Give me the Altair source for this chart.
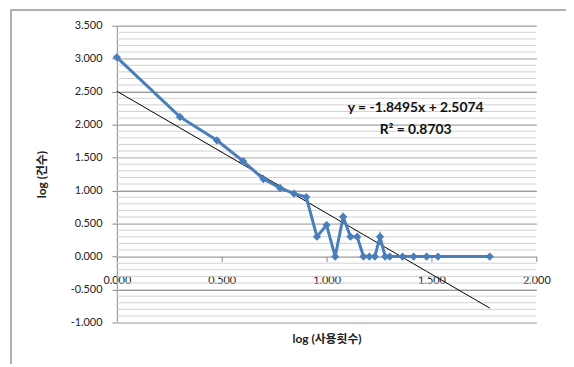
import altair as alt
import pandas as pd

# log(사용횟수) and log(건수)
x_vals = [0.000, 0.301, 0.477, 0.602, 0.699, 0.778, 0.845, 0.903, 0.954, 1.000,
          1.041, 1.079, 1.114, 1.146, 1.176, 1.204, 1.230, 1.255, 1.279, 1.301,
          1.362, 1.415, 1.477, 1.531, 1.778]
y_vals = [3.021, 2.117, 1.763, 1.447, 1.176, 1.041, 0.954, 0.903, 0.301, 0.477,
          0.000, 0.602, 0.301, 0.301, 0.000, 0.000, 0.000, 0.301, 0.000, 0.000,
          0.000, 0.000, 0.000, 0.000, 0.000]

slope = -1.8495
intercept = 2.5074
eq_lines = ["y = -1.8495x + 2.5074", "R² = 0.8703"]

major_ticks_y = [-1.0, -0.5, 0.0, 0.5, 1.0, 1.5, 2.0, 2.5, 3.0, 3.5]
minor_ticks_y = [round(-1.0 + 0.1 * i, 1) for i in range(46)]
major_ticks_x = [0.0, 0.5, 1.0, 1.5, 2.0]

df = pd.DataFrame({"x": x_vals, "y": y_vals})
minor_df = pd.DataFrame({"y": minor_ticks_y})

FONT = "Lato, 'Noto Sans CJK KR', sans-serif"
MINUS_FIX = "replace(datum.label, '\u2212', '-')"

xscale = alt.Scale(domain=[0, 2], nice=False, zero=False)
yscale = alt.Scale(domain=[-1, 3.5], nice=False, zero=False)

minor = alt.Chart(minor_df).mark_rule(color="#d0d0d0", strokeWidth=1).encode(
    y=alt.Y("y:Q", scale=yscale, axis=None)
)

base = alt.Chart(df)

axes_layer = base.mark_point(opacity=0).encode(
    x=alt.X("x:Q", scale=xscale,
            axis=alt.Axis(orient="bottom", values=major_ticks_x, format=".3f",
                          title="log (사용횟수)", labelFlush=False,
                          grid=False, offset=-66.7, domainColor="#888888",
                          tickColor="#888888", tickSize=5, labelPadding=13,
                          labelOverlap=False,
                          labelFontSize=11, labelColor="#222222", labelFont=FONT,
                          titleFont=FONT, titleFontSize=12, titleFontWeight="bold",
                          titleColor="#222222", titleY=83, titleBaseline="middle")),
    y=alt.Y("y:Q", scale=yscale,
            axis=alt.Axis(orient="left", values=major_ticks_y, format=".3f",
                          title="log (건수)", labelFlush=False,
                          labelExpr=MINUS_FIX, labelOverlap=False,
                          grid=True, gridColor="#8c8c8c", domainColor="#888888",
                          tickColor="#888888", tickSize=5, labelPadding=10,
                          labelFontSize=11, labelColor="#222222", labelFont=FONT,
                          titleFont=FONT, titleFontSize=12, titleFontWeight="bold",
                          titleColor="#222222", titleX=-76, titleY=150,
                          titleAngle=270, titleAlign="center", titleBaseline="middle")),
)

series = base.mark_line(color="#4a7ebb", strokeWidth=3,
                        point=alt.OverlayMarkDef(shape="diamond", size=70,
                                                 color="#4a7ebb", filled=True)).encode(
    x=alt.X("x:Q", scale=xscale, axis=None),
    y=alt.Y("y:Q", scale=yscale, axis=None),
)

trend = base.transform_calculate(
    fit=f"{slope} * datum.x + {intercept}"
).mark_line(color="#000000", strokeWidth=1).encode(
    x=alt.X("x:Q", scale=xscale, axis=None),
    y=alt.Y("fit:Q", scale=yscale, axis=None),
)

eq1 = alt.Chart(pd.DataFrame({"t": [eq_lines[0]]})).mark_text(
    font=FONT, fontSize=14, fontWeight="bold", color="#111111",
    align="center", baseline="middle").encode(
    text="t:N", x=alt.value(302), y=alt.value(83))
eq2 = alt.Chart(pd.DataFrame({"t": [eq_lines[1]]})).mark_text(
    font=FONT, fontSize=14, fontWeight="bold", color="#111111",
    align="center", baseline="middle").encode(
    text="t:N", x=alt.value(302), y=alt.value(105))

frame_left = alt.Chart(df).mark_rule(color="#b0b0b0").encode(
    x=alt.value(-107), y=alt.value(-16), y2=alt.value(400))
frame_top = alt.Chart(df).mark_rule(color="#b0b0b0").encode(
    x=alt.value(-107), x2=alt.value(500), y=alt.value(-16))

chart = alt.layer(minor, axes_layer, frame_left, frame_top, trend, series, eq1, eq2).resolve_axis(
    x="independent", y="independent"
).properties(
    width=424, height=300,
    autosize=alt.AutoSizeParams(type="none"),
    padding={"left": 110, "top": 16, "right": 30, "bottom": 40},
    background="white",
).configure_view(stroke=None)

chart.save("out.html", embed_options={"renderer": "svg", "actions": False})
